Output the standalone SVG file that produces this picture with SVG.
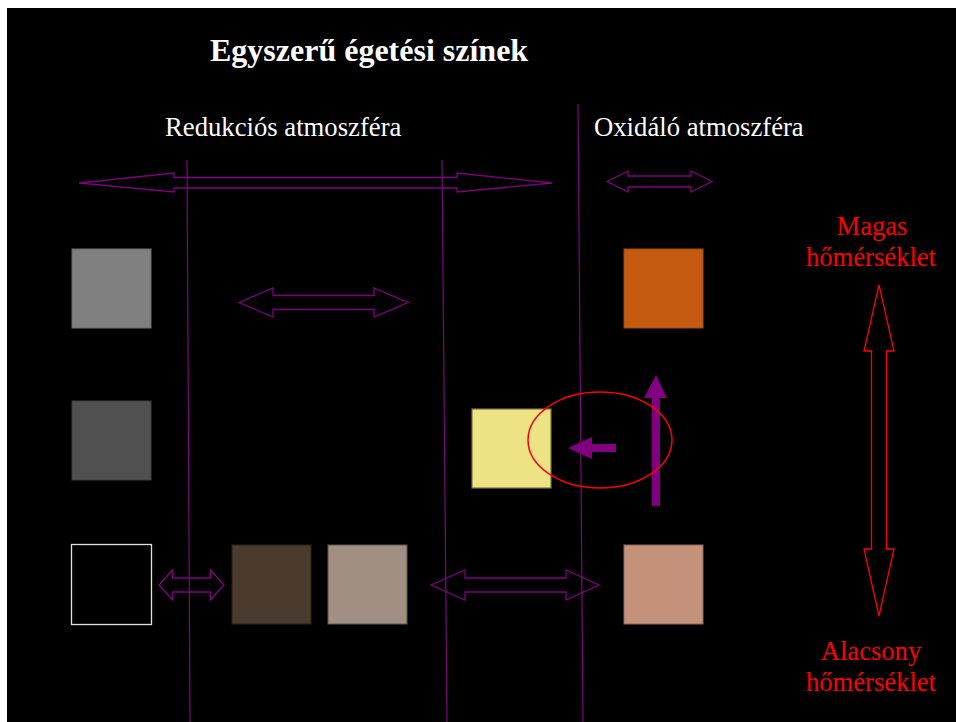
<svg xmlns="http://www.w3.org/2000/svg" width="956" height="722" viewBox="0 0 956 722">
<style>
.t{font-family:"Liberation Serif","Times New Roman",serif;}
.w{fill:#ffffff;}
.r{fill:#ff0000;}
.da{fill:none;stroke:#800080;stroke-width:1.3;}
.vl{stroke:#7a0a7a;stroke-width:1.2;fill:none;}
</style>
<rect x="0" y="0" width="956" height="722" fill="#ffffff"/>
<rect x="7" y="8" width="949" height="714" fill="#000000"/>
<text class="t w" x="210" y="61" font-size="32" font-weight="bold">Egyszerű égetési színek</text>
<text class="t w" x="165" y="136" font-size="26.7">Redukciós atmoszféra</text>
<text class="t w" x="594" y="136" font-size="26.7">Oxidáló atmoszféra</text>
<g id="label-high"><text class="t r" x="872" y="235" font-size="26.6" text-anchor="middle">Magas</text><text class="t r" x="871" y="266" font-size="26.6" text-anchor="middle">hőmérséklet</text></g>
<g id="label-low"><text class="t r" x="871" y="660" font-size="26.6" text-anchor="middle">Alacsony</text><text class="t r" x="871" y="691" font-size="26.6" text-anchor="middle">hőmérséklet</text></g>
<g id="connectors">
<line class="vl" x1="187" y1="160" x2="190" y2="722"/>
<line class="vl" x1="442" y1="160" x2="447" y2="722"/>
<line class="vl" x1="578" y1="104" x2="583" y2="722"/>
<polygon class="da" points="79,183 174,173 174,177.5 457,177.5 457,173 552,183 457,192 457,188 174,188 174,192"/>
<polygon class="da" points="607,181.5 628,171 628,176 691,176 691,171 712,181.5 691,192 691,187 628,187 628,192"/>
<polygon class="da" points="239,302.5 273,288 273,295.5 374,295.5 374,288 408,302.5 374,317 374,309.5 273,309.5 273,317"/>
<polygon class="da" points="159,585 172.5,570 172.5,578 210.5,578 210.5,570 224,585 210.5,600 210.5,592 172.5,592 172.5,600"/>
<polygon class="da" points="431,585 465,570 465,578 566,578 566,570 599,585 566,600 566,592 465,592 465,600"/>
<polygon fill="#800080" points="568,448 592,437 592,444 616,444 616,452 592,452 592,459"/>
<polygon fill="#800080" points="656,375 667,398 660,398 660,506 652,506 652,398 644,398"/>
<polygon fill="none" stroke="#ff0000" stroke-width="1.3" points="879,285 894,351 886.5,351 886.5,549 894,549 879,616 864,549 871.5,549 871.5,351 864,351"/>
</g>
<g id="sq-gray"><rect x="72" y="249" width="79" height="79" fill="#808080" stroke="#6a6a6a" stroke-width="1"/></g>
<g id="sq-orange"><rect x="624" y="249" width="79" height="79" fill="#c55a11" stroke="#a64a0e" stroke-width="1"/></g>
<g id="sq-darkgray"><rect x="72" y="401" width="79" height="79" fill="#505050" stroke="#3e3e3e" stroke-width="1"/></g>
<g id="sq-yellow"><rect x="472" y="409" width="79" height="79" fill="#ede384" stroke="#7a7540" stroke-width="1.2"/></g>
<g id="sq-black"><rect x="71.5" y="544.5" width="80" height="80" fill="#000000" stroke="#e0e0e0" stroke-width="1.3"/></g>
<g id="sq-brown"><rect x="232" y="545" width="79" height="79" fill="#4b3a2e" stroke="#2e231b" stroke-width="1"/></g>
<g id="sq-taupe"><rect x="328" y="545" width="79" height="79" fill="#a08f82" stroke="#5e544c" stroke-width="1"/></g>
<g id="sq-pink"><rect x="624" y="545" width="79" height="79" fill="#c4917b" stroke="#8e6a5a" stroke-width="1"/></g>
<ellipse cx="600" cy="440" rx="72" ry="48" fill="none" stroke="#ff0000" stroke-width="1.5"/>
</svg>
